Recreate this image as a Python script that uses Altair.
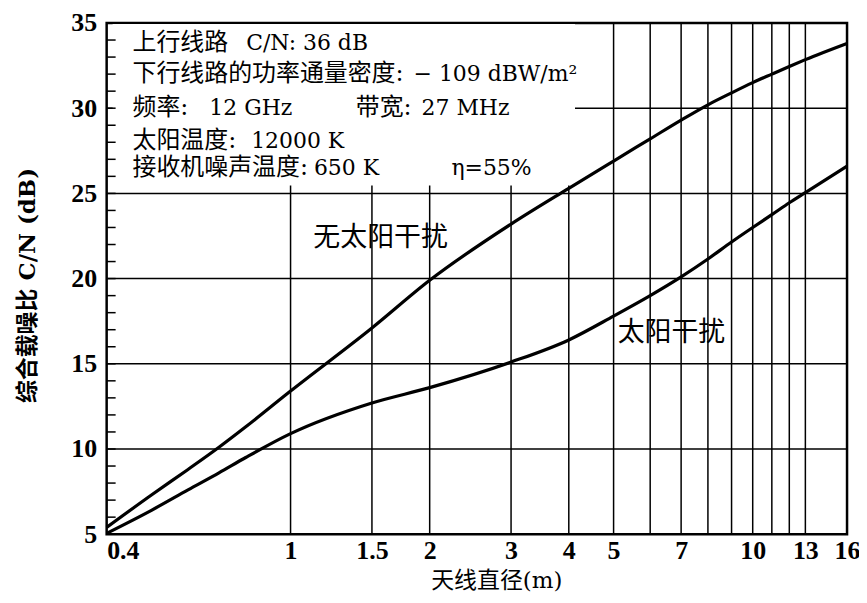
import altair as alt
import pandas as pd

# ---- data ----
diam = [0.4, 0.5, 0.6, 0.7, 0.8, 1, 1.5, 2, 3, 4, 5, 6, 7, 8, 9, 10, 11, 12, 13, 16]
cn_no_sun = [5.4, 7.3, 8.8, 10.1, 11.3, 13.4, 17.1, 19.9, 23.2, 25.3, 26.9, 28.2, 29.3,
             30.2, 30.9, 31.5, 32.0, 32.45, 32.85, 33.8]
cn_sun = [5.05, 6.4, 7.6, 8.6, 9.5, 10.9, 12.7, 13.6, 15.1, 16.4, 17.8, 19.0, 20.1,
          21.15, 22.15, 23.0, 23.75, 24.45, 25.05, 26.6]
series_names = ["无太阳干扰", "太阳干扰"]

x_tick_labels = [0.4, 1, 1.5, 2, 3, 4, 5, 7, 10, 13, 16]
x_grid = [1, 1.5, 2, 3, 4, 5, 6, 7, 8, 9, 10, 11, 12, 13]
y_grid = [10, 15, 20, 25, 30]
y_major = [5, 10, 15, 20, 25, 30, 35]
y_minor = list(range(5, 36))

info_cjk = ["上行线路", "下行线路的功率通量密度:", "频率:", "带宽:", "太阳温度:", "接收机噪声温度:"]
info_latin = ["C/N: 36 dB", "− 109 dBW/m²", "12 GHz", "27 MHz", "12000 K", "650 K", "η=55%"]

# ---- layout (pixels) ----
OX, OY = 107, 22
W, H = 743, 513
cjk_pos = [(133, 42), (133, 73), (133, 107), (357, 107), (133, 140), (133, 168)]
latin_pos = [(247, 42), (415, 73), (210, 107), (423, 107), (252, 140), (315, 168), (453, 168)]
label_pos = [(1.566, 22.4), (6.67, 16.8)]

xs = alt.Scale(type="log", domain=[0.4, 16], nice=False)
ys = alt.Scale(domain=[5, 35], nice=False)

df = pd.DataFrame({
    "d": diam * 2,
    "cn": cn_no_sun + cn_sun,
    "s": [series_names[0]] * len(diam) + [series_names[1]] * len(diam),
})

x_axis = alt.Axis(
    values=x_tick_labels, format="~g", title="天线直径(m)", grid=False, ticks=False,
    domain=False, labelOverlap=False, labelBound=False,
    labelFont="Liberation Serif", labelFontWeight="bold", labelFontSize=26,
    labelColor="black", labelPadding=3,
    labelAlign={"condition": {"test": "datum.value < 0.5", "value": "left"}, "value": "center"},
    titleFont="DejaVu Serif, Noto Sans CJK SC", titleFontSize=23, titleFontWeight="normal",
    titleColor="black", titleX=391, titleY=46, titleBaseline="middle", titleAlign="center",
)
y_axis = alt.Axis(
    values=y_major, title="综合载噪比 C/N (dB)", grid=False, ticks=False, domain=False,
    labelFont="Liberation Serif", labelFontWeight="bold", labelFontSize=26,
    labelColor="black", labelPadding=10,
    titleFont="DejaVu Serif, Noto Sans CJK SC", titleFontSize=23, titleFontWeight="bold",
    titleColor="black", titleX=-79, titleY=263, titleBaseline="middle", titleAlign="center",
    titleAngle=270,
)

X = lambda f: alt.X(f, scale=xs, axis=x_axis)
Y = lambda f: alt.Y(f, scale=ys, axis=y_axis)

vgrid = alt.Chart(pd.DataFrame({"d": x_grid})).mark_rule(color="black", strokeWidth=1.5).encode(
    x=X("d:Q"))
hgrid = alt.Chart(pd.DataFrame({"v": y_grid})).mark_rule(color="black", strokeWidth=1.5).encode(
    y=Y("v:Q"))

box = alt.Chart(pd.DataFrame({"a": [0]})).mark_rect(color="white").encode(
    x=alt.value(6), x2=alt.value(470), y=alt.value(1), y2=alt.value(163))

minor = alt.Chart(pd.DataFrame({"v": y_minor})).mark_rule(color="black", strokeWidth=1.5).encode(
    y=Y("v:Q"), x=alt.value(0), x2=alt.value(9))

curves = alt.Chart(df).mark_line(color="black", strokeWidth=3.2, interpolate="monotone").encode(
    x=X("d:Q"), y=Y("cn:Q"), detail="s:N",
)

cjk_df = pd.DataFrame({"t": info_cjk, "px": [p[0] - OX for p in cjk_pos], "py": [p[1] - OY for p in cjk_pos]})
latin_df = pd.DataFrame({"t": info_latin, "px": [p[0] - OX for p in latin_pos], "py": [p[1] - OY for p in latin_pos]})

cjk_text = alt.Chart(cjk_df).mark_text(
    align="left", baseline="middle", font="DejaVu Serif, Noto Sans CJK SC", fontSize=24, color="black"
).encode(x=alt.X("px:Q", scale=None), y=alt.Y("py:Q", scale=None), text="t:N")
latin_text = alt.Chart(latin_df).mark_text(
    align="left", baseline="middle", font="DejaVu Serif", fontSize=22, color="black"
).encode(x=alt.X("px:Q", scale=None), y=alt.Y("py:Q", scale=None), text="t:N")

lab_df = pd.DataFrame({"t": series_names, "d": [p[0] for p in label_pos], "v": [p[1] for p in label_pos]})
curve_labels = alt.Chart(lab_df).mark_text(
    align="center", baseline="middle", font="Noto Sans CJK SC", fontSize=27, color="black"
).encode(x=X("d:Q"), y=Y("v:Q"), text="t:N")

chart = alt.layer(vgrid, hgrid, box, minor, curves, cjk_text, latin_text, curve_labels).properties(
    width=W, height=H,
    padding={"left": OX - 8, "top": OY - 8, "right": 12, "bottom": 66},
    autosize=alt.AutoSizeParams(type="none"),
    background="white",
).configure_view(stroke="black", strokeWidth=2.5)

chart.save("out.html", embed_options={"renderer": "svg", "actions": False})
